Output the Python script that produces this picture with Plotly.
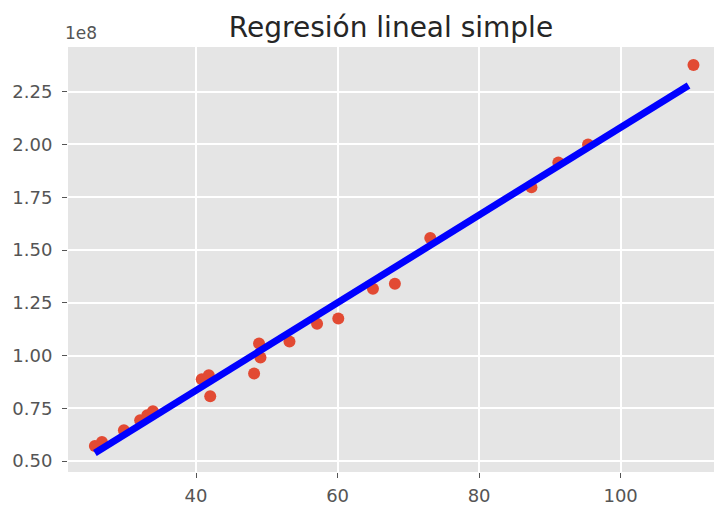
import plotly.graph_objects as go

# Data (y in raw units; axis shown with 1e8 offset)
x_vals = [25.7, 26.7, 29.8, 32.1, 33.1, 33.9, 40.8, 41.8, 42.0, 48.2, 48.9, 49.1,
          53.2, 57.1, 60.1, 65.0, 68.1, 73.1, 87.4, 91.2, 95.4, 110.3]
y_vals = [0.571e8, 0.590e8, 0.646e8, 0.693e8, 0.717e8, 0.736e8, 0.887e8, 0.906e8,
          0.807e8, 0.915e8, 1.057e8, 0.991e8, 1.066e8, 1.151e8, 1.175e8, 1.316e8,
          1.340e8, 1.557e8, 1.797e8, 1.915e8, 2.000e8, 2.377e8]
# Fitted regression line (end points)
line_x = [25.7, 109.6]
line_y = [0.538e8, 2.280e8]

y_tick_vals = [0.50e8, 0.75e8, 1.00e8, 1.25e8, 1.50e8, 1.75e8, 2.00e8, 2.25e8]
y_tick_text = ["0.50", "0.75", "1.00", "1.25", "1.50", "1.75", "2.00", "2.25"]
x_tick_vals = [40, 60, 80, 100]
x_tick_text = ["40", "60", "80", "100"]

fig = go.Figure()
fig.add_trace(go.Scatter(x=x_vals, y=y_vals, mode="markers",
                         marker=dict(color="#E24A33", size=12, line=dict(width=0)),
                         showlegend=False))
fig.add_trace(go.Scatter(x=line_x, y=line_y, mode="lines",
                         line=dict(color="#0000FF", width=7),
                         showlegend=False))

font = "DejaVu Sans, sans-serif"
fig.update_layout(
    width=714, height=506,
    margin=dict(l=68, r=0, t=47, b=32),
    paper_bgcolor="white", plot_bgcolor="#E5E5E5",
    font=dict(family=font, color="#555555", size=18),
    title=dict(text="Regresión lineal simple", xref="paper", x=0.5, xanchor="center",
               y=1 - 27 / 506, yanchor="middle",
               font=dict(family=font, size=28, color="#262626")),
    xaxis=dict(range=[21.9, 113.2], tickvals=x_tick_vals, ticktext=x_tick_text,
               showgrid=True, gridcolor="white", gridwidth=1.6, zeroline=False,
               ticks="outside", ticklen=5, tickcolor="#555555", tickwidth=1.3,
               ticklabelstandoff=2,
               showline=False, tickfont=dict(size=18, color="#555555")),
    yaxis=dict(range=[0.448e8, 2.462e8], tickvals=y_tick_vals, ticktext=y_tick_text,
               showgrid=True, gridcolor="white", gridwidth=1.6, zeroline=False,
               ticks="outside", ticklen=5, tickcolor="#555555", tickwidth=1.3,
               ticklabelstandoff=6,
               showline=False, tickfont=dict(size=18, color="#555555")),
    annotations=[dict(text="1e8", xref="paper", yref="paper", x=0, y=1,
                      xanchor="left", yanchor="bottom", yshift=2, xshift=-5,
                      showarrow=False,
                      font=dict(family=font, size=17, color="#555555"))],
)

fig.write_html("out.html")
